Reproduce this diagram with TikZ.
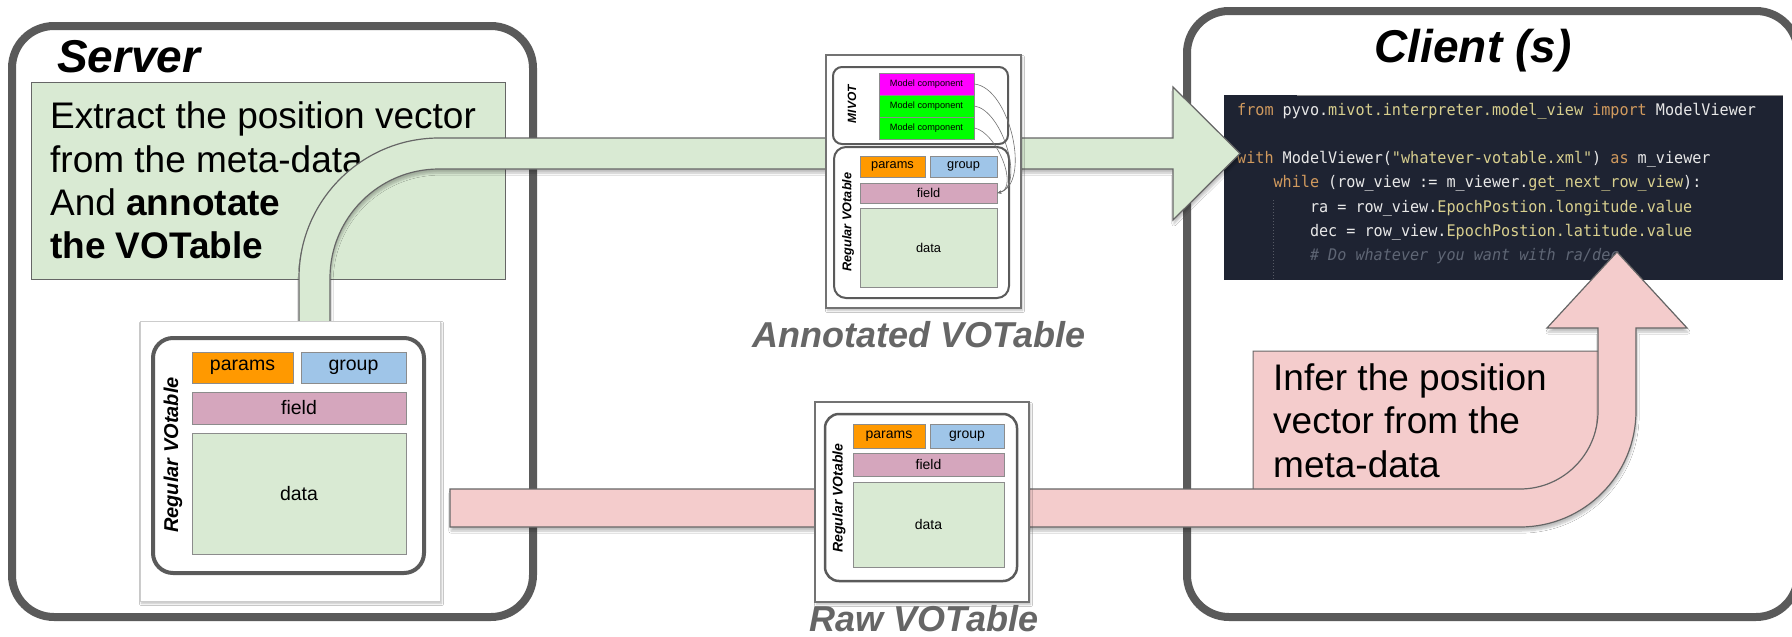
\documentclass[tikz,border=0pt]{standalone}
\usepackage{fontspec}
\setmainfont{Liberation Sans}
\newfontfamily\codefont[FakeStretch=0.945,Ligatures=TeXOff]{DejaVu Sans Mono}
\usetikzlibrary{shadows.blur,arrows.meta}

\definecolor{frame}{HTML}{5A5A5A}
\definecolor{boxline}{HTML}{666666}
\definecolor{mint}{HTML}{D9EAD3}
\definecolor{blush}{HTML}{F4CCCC}
\definecolor{paramorange}{HTML}{FF9900}
\definecolor{groupblue}{HTML}{9FC5E8}
\definecolor{fieldmauve}{HTML}{D5A6BD}
\definecolor{mcmagenta}{HTML}{FF00FF}
\definecolor{mcgreen}{HTML}{00FF00}
\definecolor{codebg}{HTML}{1E2332}
\definecolor{codefg}{HTML}{E8E8E8}
\definecolor{codekw}{HTML}{D19A5E}
\definecolor{codeattr}{HTML}{D8CF8E}
\definecolor{codecmt}{HTML}{5F6675}
\definecolor{captiongray}{HTML}{666666}

% cell of a VOTable sketch: x1, y1, x2, y2, name, fill, text
\newcommand{\vtcell}[7]{%
  \node[cell, fill=#6, minimum width={(#3)-(#1)}, minimum height={(#4)-(#2)}]
    (#5) at ({((#1)+(#3))/2},{((#2)+(#4))/2}) {#7};}

\tikzset{
  panel/.style={draw=frame, line width=8pt, rounded corners=42pt},
  note/.style={draw=boxline, line width=1pt},
  bigarrow/.style={draw=boxline, line width=1.2pt, line join=miter,
    blur shadow={shadow xshift=1pt, shadow yshift=-4pt, shadow opacity=25, shadow blur steps=6}},
  snapshot/.style={draw=black!55, fill=white, line width=1pt,
    blur shadow={shadow xshift=1.5pt, shadow yshift=-2.5pt, shadow opacity=25, shadow blur steps=5}},
  vtframe/.style={draw=frame, fill=white},
  cell/.style={draw=black!45, line width=0.8pt, inner sep=0pt, text=black},
  vtlabel/.style={rotate=90, inner sep=0pt, text=black},
  bodytext/.style={font=\fontsize{37}{43}\selectfont, inner sep=0pt, anchor=base west},
  title/.style={font=\fontsize{46}{50}\selectfont\bfseries\itshape, inner sep=0pt},
  imgcaption/.style={font=\fontsize{36}{40}\selectfont\bfseries\itshape, text=captiongray, inner sep=0pt, anchor=base},
  code/.style={font=\codefont\fontsize{16}{20}\selectfont, inner sep=0pt, anchor=base west, text=codefg},
  mivotlink/.style={draw=black!55, line width=0.6pt, -{Stealth[length=4pt,width=3pt]}},
}

\begin{document}
\begin{tikzpicture}[x=1pt,y=-1pt]
\useasboundingbox (0,0) rectangle (1792,637);
\fill[white] (0,0) rectangle (1792,637);

% server and client panels
\draw[panel] (12,26) rectangle (533,617);
\draw[panel] (1187,11) rectangle (1798,617);
\node[title, anchor=base west] (server) at (57,72) {Server};
\node[title, anchor=base] (client) at (1473,62) {Client (s)};

% server-side note
\draw[note, fill=mint] (31,82) rectangle (505,279);
\node[bodytext] (ex1) at (50,128) {Extract the position vector};
\node[bodytext] (ex2) at (50,172) {from the meta-data};
\node[bodytext] (ex3) at (50,215) {And \textbf{annotate}};
\node[bodytext] (ex4) at (50,258) {\textbf{the VOTable}};

% client code
\fill[codebg] (1224,95) rectangle (1783,280);
\draw[black!45, line width=1pt] (1297,95.5) -- (1783,95.5);
\draw[codebg!75!white, line width=1pt, dotted] (1273,200) -- (1273,280);
\node[code] (c1) at (1237,115) {\textcolor{codekw}{from} pyvo.\textcolor{codeattr}{mivot.interpreter.model\_view} \textcolor{codekw}{import} ModelViewer};
\node[code] (c3) at (1237,163) {\textcolor{codekw}{with} ModelViewer(\textcolor{codeattr}{"whatever-votable.xml"}) \textcolor{codekw}{as} m\_viewer};
\node[code] (c4) at (1273.4,187) {\textcolor{codekw}{while} (row\_view := m\_viewer.\textcolor{codeattr}{get\_next\_row\_view}):};
\node[code] (c5) at (1309.8,212) {ra = row\_view.\textcolor{codeattr}{EpochPostion.longitude.value}};
\node[code] (c6) at (1309.8,236) {dec = row\_view.\textcolor{codeattr}{EpochPostion.latitude.value}};
\node[code, text=codecmt] (c7) at (1309.8,260) {\itshape\# Do whatever you want with ra/dec};

% client-side note
\draw[note, fill=blush] (1617,411) -- (1617,351) -- (1253,351) -- (1253,508) -- (1520,508)
  .. controls (1573.6,508) and (1617,464.6) .. (1617,411) -- cycle;
\node[bodytext] (in1) at (1273,390) {Infer the position};
\node[bodytext] (in2) at (1273,433) {vector from the};
\node[bodytext] (in3) at (1273,477) {meta-data};

% annotation path: server to client
\path[bigarrow, fill=mint] (299,340) -- (299,278) .. controls (299,200.7) and (361.7,138) .. (439,138)
  -- (1173,138) -- (1173,87) -- (1240,153.5) -- (1173,220) -- (1173,169) -- (439,169)
  .. controls (378.8,169) and (330,217.8) .. (330,278) -- (330,340) -- cycle;

% raw path: server to client
\path[bigarrow, fill=blush] (450,489) -- (1520,489) .. controls (1563.1,489) and (1598,454.1) .. (1598,411)
  -- (1598,328) -- (1547,328) -- (1617,252) -- (1687,328) -- (1636,328) -- (1636,411)
  .. controls (1636,475.1) and (1584.1,527) .. (1520,527) -- (450,527) -- cycle;

% VOTable on the server
\draw[snapshot, draw=black!20] (140,321) rectangle (440,601);
\draw[vtframe, line width=4pt, rounded corners=20pt] (153,338) rectangle (424,573);
\node[vtlabel, font=\fontsize{20}{20}\selectfont\bfseries\itshape] (lreg) at (173,455) {Regular VOtable};
\begin{scope}[every node/.append style={font=\fontsize{19.5}{20}\selectfont}]
\vtcell{192}{352}{293}{383}{lparams}{paramorange}{params}
\vtcell{301}{352}{406}{383}{lgroup}{groupblue}{group}
\vtcell{192}{392}{406}{424}{lfield}{fieldmauve}{field}
\vtcell{192}{433}{406}{554}{ldata}{mint}{data}
\end{scope}

% annotated VOTable
\draw[snapshot, line width=1.5pt] (826,55) rectangle (1021,308);
\draw[vtframe, line width=2pt, rounded corners=9pt] (833,67) rectangle (1008,144);
\node[vtlabel, font=\fontsize{12}{12}\selectfont\bfseries\itshape] (mivot) at (852,104) {MIVOT};
\begin{scope}[every node/.append style={font=\fontsize{9.2}{10}\selectfont}]
\vtcell{879}{73}{974}{95}{mc1}{mcmagenta}{Model component}
\vtcell{879}{95}{974}{117}{mc2}{mcgreen}{Model component}
\vtcell{879}{117}{974}{139}{mc3}{mcgreen}{Model component}
\end{scope}
\draw[vtframe, line width=2pt, rounded corners=12pt] (834,147) rectangle (1009,298);
\node[vtlabel, font=\fontsize{12.7}{13}\selectfont\bfseries\itshape] (areg) at (848,222) {Regular VOtable};
\begin{scope}[every node/.append style={font=\fontsize{12.8}{13}\selectfont}]
\vtcell{860}{156}{925}{177}{aparams}{paramorange}{params}
\vtcell{930}{156}{997}{177}{agroup}{groupblue}{group}
\vtcell{860}{183}{997}{203}{afield}{fieldmauve}{field}
\vtcell{860}{208}{997}{287}{adata}{mint}{data}
\end{scope}
\draw[mivotlink] (mc1.east) .. controls +(36,4) and +(34,-9) .. (afield.east);
\draw[mivotlink] (mc2.east) .. controls +(28,4) and +(28,-7) .. (afield.east);
\draw[mivotlink] (mc3.east) .. controls +(22,4) and +(22,-5) .. (afield.east);
\node[imgcaption] (anncap) at (919,347) {Annotated VOTable};

% raw VOTable
\draw[snapshot, line width=1.5pt] (815,402) rectangle (1029,602);
\draw[vtframe, line width=2.5pt, rounded corners=14pt] (825,414) rectangle (1017,581);
\node[vtlabel, font=\fontsize{14}{14}\selectfont\bfseries\itshape] (rreg) at (839,498) {Regular VOtable};
\begin{scope}[every node/.append style={font=\fontsize{14}{14}\selectfont}]
\vtcell{853}{424}{925}{448}{rparams}{paramorange}{params}
\vtcell{930}{424}{1004}{448}{rgroup}{groupblue}{group}
\vtcell{853}{453}{1004}{476}{rfield}{fieldmauve}{field}
\vtcell{853}{482}{1004}{567}{rdata}{mint}{data}
\end{scope}
\node[imgcaption] (rawcap) at (924,631) {Raw VOTable};
\end{tikzpicture}
\end{document}
